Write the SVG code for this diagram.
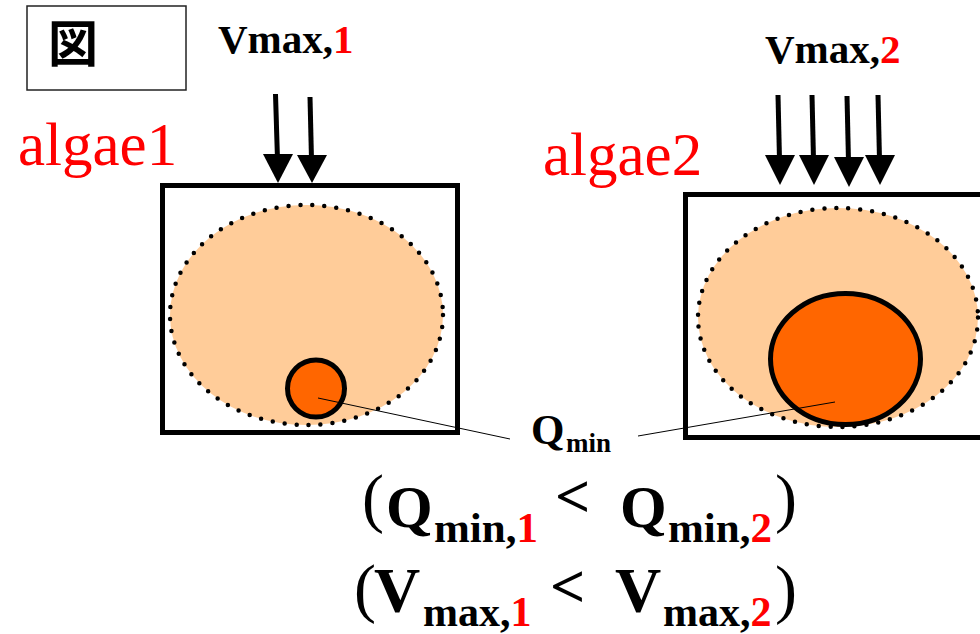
<svg xmlns="http://www.w3.org/2000/svg" width="980" height="634" viewBox="0 0 980 634">
<style>
.b{font-weight:bold;fill:#000}
.r{fill:#FF0000}
.alg{font-size:61px;fill:#FF0000}
.par{font-size:66px;fill:#000}
.cell{fill:#fff;stroke:#000;stroke-width:5}
.cyto{fill:#FFCC99;stroke:#000;stroke-width:4.5;stroke-dasharray:0 12;stroke-linecap:round}
.q{fill:#FF6600;stroke:#000;stroke-width:5}
.shaft{stroke:#000;stroke-width:5}
.lead{stroke:#000;stroke-width:1}
</style>
<rect width="980" height="634" fill="#fff"/>
<g id="fig-label">
<rect x="27" y="6" width="159" height="84" fill="#fff" stroke="#222" stroke-width="1.5"/>
<text x="48" y="62" font-family="Noto Sans CJK JP, sans-serif" font-weight="bold" font-size="50">図</text>
</g>
<g font-family="Liberation Serif, serif">
<g id="algae1">
<text class="alg" x="18" y="165">algae1</text>
<rect class="cell" x="162.5" y="185.5" width="295" height="247"/>
<ellipse class="cyto" cx="306.5" cy="315" rx="136.5" ry="110"/>
<circle class="q" cx="316" cy="388.5" r="28.5"/>
</g>
<g id="algae2">
<text class="alg" x="543" y="175">algae2</text>
<rect class="cell" x="685.5" y="194.5" width="310" height="243"/>
<ellipse class="cyto" cx="838" cy="317.5" rx="140" ry="109.5"/>
<ellipse class="q" cx="845.5" cy="359" rx="75" ry="65.5"/>
</g>
<g id="vmax1-label">
<text class="b" x="218" y="53" font-size="41">Vmax,<tspan class="r">1</tspan></text>
</g>
<g id="vmax2-label">
<text class="b" x="765" y="63" font-size="41">Vmax,<tspan class="r">2</tspan></text>
</g>
<g id="qmin-label">
<text class="b" x="531" y="444" font-size="43">Q</text>
<text class="b" x="566" y="452" font-size="27">min</text>
</g>
<g id="inequalities">
<text class="par" x="362" y="520">(</text>
<text class="b" x="386" y="527" font-size="60">Q</text>
<text class="b" x="434" y="542" font-size="43">min,<tspan class="r">1</tspan></text>
<text class="b" x="555" y="517" font-size="62">&lt;</text>
<text class="b" x="620" y="527" font-size="60">Q</text>
<text class="b" x="668" y="542" font-size="43">min,<tspan class="r">2</tspan></text>
<text class="par" x="775" y="520">)</text>
<text class="par" x="354" y="610">(</text>
<text class="b" x="374" y="612" font-size="64">V</text>
<text class="b" x="423" y="626" font-size="42">max,<tspan class="r">1</tspan></text>
<text class="b" x="550" y="607" font-size="62">&lt;</text>
<text class="b" x="615" y="612" font-size="64">V</text>
<text class="b" x="663" y="626" font-size="42">max,<tspan class="r">2</tspan></text>
<text class="par" x="775" y="611">)</text>
</g>
</g>
<g id="connectors">
<line class="shaft" x1="275.5" y1="94" x2="277.5" y2="160"/>
<polygon points="263,154 293,154 278,183"/>
<line class="shaft" x1="310" y1="97" x2="311.5" y2="160"/>
<polygon points="297,155 327,155 312,183"/>
<line class="shaft" x1="778" y1="95" x2="779.5" y2="160"/>
<polygon points="765,155 795,155 780,185"/>
<line class="shaft" x1="812" y1="95" x2="813.5" y2="160"/>
<polygon points="799,155 829,155 814,185"/>
<line class="shaft" x1="847" y1="96" x2="848.5" y2="162"/>
<polygon points="834,157 864,157 849,187"/>
<line class="shaft" x1="878" y1="95" x2="879.5" y2="160"/>
<polygon points="865,155 895,155 880,185"/>
<line class="lead" x1="318" y1="398" x2="510" y2="439"/>
<line class="lead" x1="835" y1="402" x2="638" y2="436"/>
</g>
</svg>
